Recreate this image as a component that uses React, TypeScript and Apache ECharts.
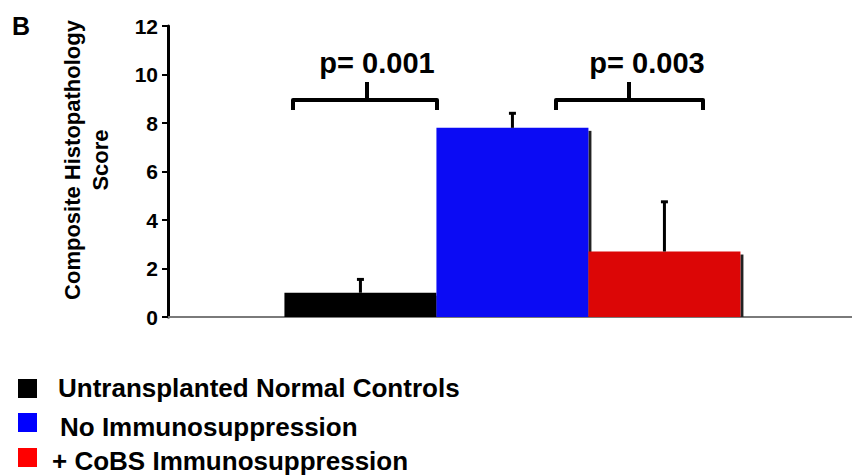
import React, { useEffect, useRef } from "react";
import * as echarts from "echarts";

const categories = [
  "Untransplanted Normal Controls",
  "No Immunosuppression",
  "+ CoBS Immunosuppression",
];
const means = [1.0, 7.8, 2.7];
const errors = [0.55, 0.6, 2.05];
const barColors = ["#000000", "#0b0bf4", "#dc0606"];
const legendColors = ["#000000", "#0000ff", "#ff0000"];
const yTickValues = [0, 2, 4, 6, 8, 10, 12];
const pLabels = ["p= 0.001", "p= 0.003"];

const FONT = '"Liberation Sans", Arial, Helvetica, sans-serif';

export default function App() {
  const ref = useRef<HTMLDivElement>(null);

  useEffect(() => {
    if (!ref.current) return;
    const chart = echarts.init(ref.current, undefined, { renderer: "svg" });

    const data = categories.map((c, i) => [i + 1.266, means[i], errors[i]]);

    const legendRows = [
      { sq: 379, tx: 58, ty: 388 },
      { sq: 413, tx: 60, ty: 427 },
      { sq: 448, tx: 52, ty: 461 },
    ];

    const graphic: any[] = [
      {
        type: "text",
        left: 12,
        top: 13,
        style: { text: "B", font: `bold 25px ${FONT}`, fill: "#000" },
      },
      {
        type: "text",
        x: 86,
        y: 160,
        rotation: Math.PI / 2,
        style: {
          text: "Composite Histopathology\nScore",
          font: `bold 22px ${FONT}`,
          fill: "#000",
          align: "center",
          verticalAlign: "middle",
          lineHeight: 28,
        },
      },
      // brackets
      {
        type: "polyline",
        shape: { points: [[293, 110], [293, 100], [437, 100], [437, 110]] },
        style: { stroke: "#000", lineWidth: 4, lineJoin: "round", fill: "none" },
      },
      {
        type: "line",
        shape: { x1: 367, y1: 82, x2: 367, y2: 100 },
        style: { stroke: "#000", lineWidth: 4 },
      },
      {
        type: "polyline",
        shape: { points: [[556, 110], [556, 100], [703, 100], [703, 110]] },
        style: { stroke: "#000", lineWidth: 4, lineJoin: "round", fill: "none" },
      },
      {
        type: "line",
        shape: { x1: 629, y1: 82, x2: 629, y2: 100 },
        style: { stroke: "#000", lineWidth: 4 },
      },
      {
        type: "text",
        x: 377,
        y: 63,
        style: {
          text: pLabels[0],
          font: `bold 29px ${FONT}`,
          fill: "#000",
          align: "center",
          verticalAlign: "middle",
        },
      },
      {
        type: "text",
        x: 647,
        y: 63,
        style: {
          text: pLabels[1],
          font: `bold 29px ${FONT}`,
          fill: "#000",
          align: "center",
          verticalAlign: "middle",
        },
      },
    ];

    categories.forEach((c, i) => {
      const r = legendRows[i];
      graphic.push({
        type: "rect",
        shape: { x: 18, y: r.sq, width: 19, height: 19 },
        style: { fill: legendColors[i] },
      });
      graphic.push({
        type: "text",
        x: r.tx,
        y: r.ty,
        style: {
          text: c,
          font: `bold 26px ${FONT}`,
          fill: "#000",
          align: "left",
          verticalAlign: "middle",
        },
      });
    });

    chart.setOption({
      animation: false,
      grid: { left: 168, right: 0, top: 26, bottom: 158 },
      xAxis: {
        type: "value",
        min: 0,
        max: 4.5,
        axisLine: { show: true, lineStyle: { color: "#7a7a7a", width: 2 } },
        axisTick: { show: false },
        axisLabel: { show: false },
        splitLine: { show: false },
      },
      yAxis: {
        type: "value",
        min: yTickValues[0],
        max: yTickValues[yTickValues.length - 1],
        interval: 2,
        axisLine: { show: true, lineStyle: { color: "#000", width: 3 } },
        axisTick: { show: true, length: 6, lineStyle: { color: "#000", width: 2 } },
        axisLabel: {
          color: "#000",
          fontWeight: "bold",
          fontSize: 21,
          fontFamily: FONT,
          margin: 10,
        },
        splitLine: { show: false },
      },
      graphic,
      series: [
        {
          type: "custom",
          clip: false,
          data,
          renderItem: (params: any, api: any) => {
            const x = api.value(0);
            const v = api.value(1);
            const e = api.value(2);
            const idx = params.dataIndex;
            const base = api.coord([x - 0.5, 0]);
            const top = api.coord([x + 0.5, v]);
            const errTop = api.coord([x, v + e]);
            const w = top[0] - base[0];
            const h = base[1] - top[1];
            return {
              type: "group",
              children: [
                {
                  type: "rect",
                  shape: { x: top[0], y: top[1] + 3, width: 3, height: h - 3 },
                  style: { fill: "#222" },
                },
                {
                  type: "rect",
                  shape: { x: base[0], y: top[1], width: w, height: h },
                  style: { fill: barColors[idx] },
                },
                {
                  type: "line",
                  shape: { x1: errTop[0], y1: top[1], x2: errTop[0], y2: errTop[1] },
                  style: { stroke: "#000", lineWidth: 3 },
                },
                {
                  type: "line",
                  shape: { x1: errTop[0] - 3.5, y1: errTop[1], x2: errTop[0] + 3.5, y2: errTop[1] },
                  style: { stroke: "#000", lineWidth: 3 },
                },
              ],
            };
          },
        },
      ],
    });

    return () => chart.dispose();
  }, []);

  return (
    <div
      ref={ref}
      style={{ position: "fixed", left: 0, top: 0, width: 852, height: 475, background: "#fff" }}
    />
  );
}
